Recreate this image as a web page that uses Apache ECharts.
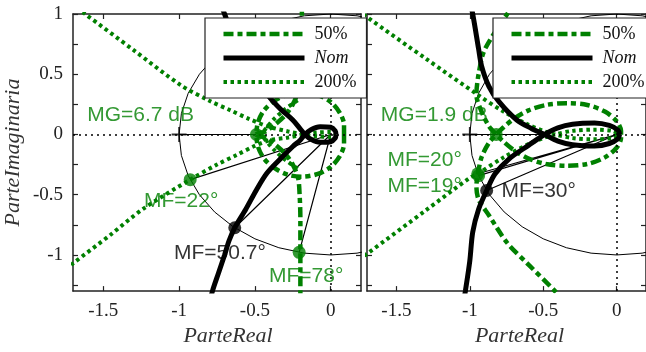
<!DOCTYPE html>
<html><head><meta charset="utf-8">
<script src="https://cdn.jsdelivr.net/npm/echarts@6/dist/echarts.min.js"></script>
<style>html,body{margin:0;padding:0;background:#fff}#c{width:646px;height:352px}</style>
</head><body><div id="c"></div>
<script>
// ---------- tick / label values ----------
const xTicks = [-1.5, -1, -0.5, 0];
const yTicks = [1, 0.75, 0.5, 0.25, 0, -0.25, -0.5, -0.75, -1, -1.25];
const yLabels = [1, 0.5, 0, -0.5, -1];
const curveNames = ['50%', 'Nom', '200%'];
const criticalPoint = [-1, 0];

// unit circle (10 degree steps)
const unitCircle = [[1,0],[0.985,0.174],[0.94,0.342],[0.866,0.5],[0.766,0.643],[0.643,0.766],[0.5,0.866],[0.342,0.94],[0.174,0.985],[0,1],[-0.174,0.985],[-0.342,0.94],[-0.5,0.866],[-0.643,0.766],[-0.766,0.643],[-0.866,0.5],[-0.94,0.342],[-0.985,0.174],[-1,0],[-0.985,-0.174],[-0.94,-0.342],[-0.866,-0.5],[-0.766,-0.643],[-0.643,-0.766],[-0.5,-0.866],[-0.342,-0.94],[-0.174,-0.985],[0,-1],[0.174,-0.985],[0.342,-0.94],[0.5,-0.866],[0.643,-0.766],[0.766,-0.643],[0.866,-0.5],[0.94,-0.342],[0.985,-0.174],[1,0]];

// ---------- left panel ----------
const nomL_low = [[-0.81,-1.45],[-0.78,-1.3],[-0.74,-1.15],[-0.70,-1.0],[-0.67,-0.88],[-0.633,-0.774],[-0.56,-0.62],[-0.49,-0.46],[-0.42,-0.32],[-0.33,-0.2],[-0.25,-0.1],[-0.2,-0.045],[-0.17,0],[-0.13,0.04],[-0.07,0.065],[0,0.06],[0.03,0.03],[0.035,0]];
const nomL_up = [[-0.81,1.45],[-0.76,1.2],[-0.70,1.0],[-0.64,0.8],[-0.56,0.62],[-0.49,0.47],[-0.41,0.32],[-0.33,0.21],[-0.25,0.12],[-0.2,0.045],[-0.17,0],[-0.13,-0.04],[-0.07,-0.065],[0,-0.06],[0.03,-0.03],[0.035,0]];
const p50L_low = [[-0.2,-1.45],[-0.2,-1.3],[-0.2,-0.98],[-0.2,-0.7],[-0.205,-0.5],[-0.215,-0.36],[-0.25,-0.25],[-0.3,-0.16],[-0.37,-0.08],[-0.43,-0.025],[-0.49,0],[-0.48,0.1],[-0.44,0.2],[-0.37,0.28],[-0.28,0.335],[-0.19,0.35],[-0.09,0.33],[0.0,0.27],[0.06,0.18],[0.088,0.08],[0.088,-0.03]];
const p50L_up = [[-0.19,1.45],[-0.19,1.0],[-0.2,0.7],[-0.205,0.5],[-0.215,0.36],[-0.25,0.25],[-0.3,0.16],[-0.37,0.08],[-0.43,0.025],[-0.49,0],[-0.48,-0.1],[-0.44,-0.2],[-0.37,-0.28],[-0.28,-0.335],[-0.19,-0.35],[-0.09,-0.33],[0.0,-0.27],[0.06,-0.18],[0.088,-0.08],[0.088,0.03]];
const p200L_up = [[-1.75,1.12],[-1.62,1.0],[-1.3,0.7],[-0.99,0.41],[-0.8,0.28],[-0.66,0.2],[-0.54,0.13],[-0.41,0.065],[-0.28,0.025],[-0.18,0],[-0.1,-0.015],[0,-0.02],[0.035,0]];
const p200L_low = [[-1.75,-1.12],[-1.7,-1.07],[-1.45,-0.83],[-1.24,-0.62],[-0.927,-0.375],[-0.75,-0.25],[-0.62,-0.17],[-0.51,-0.1],[-0.41,-0.05],[-0.28,-0.025],[-0.18,0],[-0.1,0.015],[0,0.02],[0.035,0]];
const p200L_inUp = [[-0.44,0.03],[-0.38,0.12],[-0.3,0.21],[-0.2,0.3]];
const p200L_inLow = [[-0.44,-0.03],[-0.38,-0.12],[-0.3,-0.21],[-0.2,-0.3]];
const mgPointL = [-0.49, 0];
const mgCurveL = '50%';
const mfPointsL = [[-0.927,-0.375],[-0.633,-0.774],[-0.208,-0.978]];
const mfCurvesL = ['200%','Nom','50%'];
const mgLineEndL = -0.49;
const textsL = ['MG=6.7 dB','MF=22°','MF=50.7°','MF=78°'];
const textCurvesL = ['50%','200%','Nom','50%'];

// ---------- right panel ----------
const nomR_low = [[-1.05,-1.45],[-1.03,-1.3],[-1.0,-1.05],[-0.98,-0.81],[-0.94,-0.62],[-0.885,-0.465],[-0.83,-0.33],[-0.73,-0.2],[-0.6,-0.09],[-0.49,0],[-0.4,0.055],[-0.3,0.085],[-0.15,0.095],[-0.05,0.075],[0.01,0.035],[0.02,0]];
const nomR_up = [[-1.0,1.1],[-0.98,1.0],[-0.94,0.71],[-0.92,0.57],[-0.87,0.4],[-0.8,0.27],[-0.68,0.12],[-0.58,0.05],[-0.49,0],[-0.4,-0.055],[-0.3,-0.085],[-0.15,-0.095],[-0.05,-0.075],[0.01,-0.035],[0.02,0]];
const p50R_low = [[-0.35,-1.4],[-0.42,-1.3],[-0.6,-1.08],[-0.745,-0.9],[-0.87,-0.67],[-0.94,-0.54],[-0.955,-0.43],[-0.945,-0.33],[-0.92,-0.19],[-0.87,-0.07],[-0.82,0],[-0.77,0.06],[-0.7,0.13],[-0.6,0.2],[-0.48,0.245],[-0.34,0.26],[-0.2,0.245],[-0.08,0.19],[0,0.11],[0.03,0.03],[0.03,-0.02]];
const p50R_up = [[-0.68,1.1],[-0.745,1.0],[-0.9,0.7],[-0.94,0.5],[-0.955,0.33],[-0.92,0.19],[-0.87,0.07],[-0.82,0],[-0.77,-0.06],[-0.7,-0.13],[-0.6,-0.2],[-0.48,-0.245],[-0.34,-0.26],[-0.2,-0.245],[-0.08,-0.19],[0,-0.11],[0.03,-0.03],[0.03,0.02]];
const p200R_up = [[-1.8,1.07],[-1.7,0.975],[-1.3,0.63],[-0.94,0.325],[-0.77,0.19],[-0.6,0.08],[-0.5,0.03],[-0.42,0],[-0.3,-0.03],[-0.15,-0.04],[-0.03,-0.03],[0.02,0]];
const p200R_low = [[-1.8,-1.07],[-1.7,-0.99],[-1.3,-0.63],[-1.0,-0.36],[-0.946,-0.326],[-0.77,-0.19],[-0.6,-0.08],[-0.5,-0.03],[-0.42,0],[-0.3,0.03],[-0.15,0.04],[-0.03,0.03],[0.02,0]];
const mgPointR = [-0.82, 0];
const mgCurveR = '50%';
const mfPointsR = [[-0.94,-0.342],[-0.946,-0.326],[-0.885,-0.465]];
const mfCurvesR = ['50%','200%','Nom'];
const mgLineEndR = -0.49;
const textsR = ['MG=1.9 dB','MF=20°','MF=19°','MF=30°'];
const textCurvesR = ['50%','50%','200%','Nom'];

// ---------- layout / style (not data) ----------
const GREEN = '#008000';
const colorOf = c => c === 'Nom' ? '#000' : GREEN;
const labelAnchorsL = [[-1.61,0.163],[-1.235,-0.553],[-1.037,-0.984],[-0.41,-1.179]];
const labelAnchorsR = [[-1.609,0.163],[-1.564,-0.211],[-1.564,-0.431],[-0.787,-0.472]];
const GAP = ['-','-'];
const join = (...parts) => parts.reduce((a, p, i) => i ? a.concat([GAP], p) : a.concat(p), []);
const styleOf = {
  '50%': {color:GREEN, width:4.5, type:[10,4,5,4]},
  '200%': {color:GREEN, width:4, type:[3.5,3.5]},
  'Nom': {color:'#000', width:5, type:'solid'}
};

const axisColor = '#222';
const serif = 'Liberation Serif';
const PLUS = 'path://M4.4,0 L5.6,0 L5.6,4.4 L10,4.4 L10,5.6 L5.6,5.6 L5.6,10 L4.4,10 L4.4,5.6 L0,5.6 L0,4.4 L4.4,4.4 Z';

function xAxes(g, shift) {
  const base = {gridIndex:g, type:'value', min:-1.7, max:0.2, splitLine:{show:false},
    axisLine:{show:true, onZero:false, lineStyle:{color:axisColor, width:1.5}},
    axisTick:{show:true, inside:true, length:5, customValues:xTicks, lineStyle:{color:axisColor, width:1.2}}};
  return [
    Object.assign({}, base, {position:'bottom',
      axisLabel:{show:true, customValues:xTicks, formatter:v=>String(v), fontFamily:serif, fontSize:19, color:'#222', margin:10},
      name:'ParteReal', nameLocation:'middle', nameGap:31,
      nameTextStyle:{fontFamily:serif, fontStyle:'italic', fontSize:22, color:'#333', padding:[0,0,0,shift]}}),
    Object.assign({}, base, {position:'top', axisLabel:{show:false}})
  ];
}
function yAxes(g, withLabels) {
  const base = {gridIndex:g, type:'value', min:-1.3, max:1, splitLine:{show:false},
    axisLine:{show:true, onZero:false, lineStyle:{color:axisColor, width:1.5}},
    axisTick:{show:true, inside:true, length:5, customValues:yTicks, lineStyle:{color:axisColor, width:1.2}}};
  const left = Object.assign({}, base, {position:'left',
    axisLabel: withLabels ? {show:true, customValues:yLabels, formatter:v=>String(v), fontFamily:serif, fontSize:19, color:'#222', margin:10} : {show:false}});
  if (withLabels) Object.assign(left, {name:'ParteImaginaria', nameLocation:'middle', nameGap:39,
    nameTextStyle:{fontFamily:serif, fontStyle:'italic', fontSize:22, color:'#333', padding:[0,0,10,0]}});
  return [left, Object.assign({}, base, {position:'right', axisLabel:{show:false}})];
}

function panelSeries(g, P) {
  const xi = g * 2, yi = g * 2;
  const common = {xAxisIndex:xi, yAxisIndex:yi, silent:true, animation:false};
  const mfLines = [];
  P.mf.forEach(p => { mfLines.push([0,0], p, GAP); });
  mfLines.push(criticalPoint, [P.mgEnd, 0]);
  const curve = (name, data, z) => Object.assign({}, common, {type:'line', name, data, symbol:'none', smooth:0.3, z,
    connectNulls:false, itemStyle:{color:styleOf[name].color}, lineStyle:styleOf[name]});
  return [
    Object.assign({}, common, {type:'line', name:'circle'+g, data:unitCircle, symbol:'none', z:1,
      lineStyle:{color:'#000', width:1},
      markLine:{silent:true, symbol:['none','none'], label:{show:false}, animation:false,
        lineStyle:{color:'#000', type:[2,4], width:1.5}, data:[{yAxis:0},{xAxis:0}]}}),
    Object.assign({}, common, {type:'line', name:'mf'+g, data:mfLines, symbol:'none', z:2, connectNulls:false,
      lineStyle:{color:'#000', width:1.2}}),
    curve('50%', P.p50, 2),
    curve('200%', P.p200, 2),
    curve('Nom', P.nom, 3),
    Object.assign({}, common, {type:'scatter', name:'dots'+g, symbol:'circle', symbolSize:13, z:5,
      data:[{value:P.mg, itemStyle:{color:colorOf(P.mgCurve)}}].concat(
        P.mf.map((p,i) => ({value:p, itemStyle:{color:colorOf(P.mfCurves[i])}})))}),
    Object.assign({}, common, {type:'scatter', name:'crit'+g, symbol:PLUS, symbolSize:15, z:4,
      itemStyle:{color:'#000'}, data:[criticalPoint]}),
    Object.assign({}, common, {type:'scatter', name:'txt'+g, symbolSize:1, z:8, itemStyle:{color:'transparent'},
      data:P.texts.map((t,i) => ({value:P.anchors[i], label:{show:true, position:'right', distance:0,
        formatter:t, color:colorOf(P.textCurves[i]), fontFamily:'Liberation Sans', fontSize:21}}))})
  ];
}

const left = {nom:join(nomL_low, nomL_up), p50:join(p50L_low, p50L_up), p200:join(p200L_up, p200L_low, p200L_inUp, p200L_inLow),
  mg:mgPointL, mgCurve:mgCurveL, mf:mfPointsL, mfCurves:mfCurvesL, mgEnd:mgLineEndL, texts:textsL, textCurves:textCurvesL, anchors:labelAnchorsL};
const right = {nom:join(nomR_low, nomR_up), p50:join(p50R_low, p50R_up), p200:join(p200R_up, p200R_low),
  mg:mgPointR, mgCurve:mgCurveR, mf:mfPointsR, mfCurves:mfCurvesR, mgEnd:mgLineEndR, texts:textsR, textCurves:textCurvesR, anchors:labelAnchorsR};

function legend(leftPx) {
  return {left:leftPx, top:18, z:6, orient:'vertical', selectedMode:false,
    data: curveNames.map(n => ({name:n, itemStyle:{color:'rgba(0,0,0,0)', borderWidth:0}, lineStyle:styleOf[n]})),
    itemWidth:81, itemHeight:16, itemGap:6, padding:[7,10,7,16],
    borderColor:'#222', borderWidth:1.2, backgroundColor:'#fff', borderRadius:0,
    formatter: n => n === 'Nom' ? '{i|Nom}' : '{n|' + n + '}',
    textStyle:{fontFamily:serif, fontSize:18, color:'#111', lineHeight:16,
      rich:{i:{fontFamily:serif, fontStyle:'italic', fontSize:18, color:'#111', lineHeight:16, padding:[0,0,0,5]},
            n:{fontFamily:serif, fontSize:18, color:'#111', lineHeight:16, padding:[0,0,0,5]}}}};
}

const chart = echarts.init(document.getElementById('c'), null, {renderer:'canvas'});
chart.setOption({
  animation:false,
  backgroundColor:'#fff',
  grid:[{left:73, top:14, width:288, height:283}, {left:367, top:14, width:298, height:283}],
  xAxis: xAxes(0, 22).concat(xAxes(1, 26)),
  yAxis: yAxes(0, true).concat(yAxes(1, false)),
  legend:[legend(205), legend(493)],
  series: panelSeries(0, left).concat(panelSeries(1, right))
});
</script></body></html>
